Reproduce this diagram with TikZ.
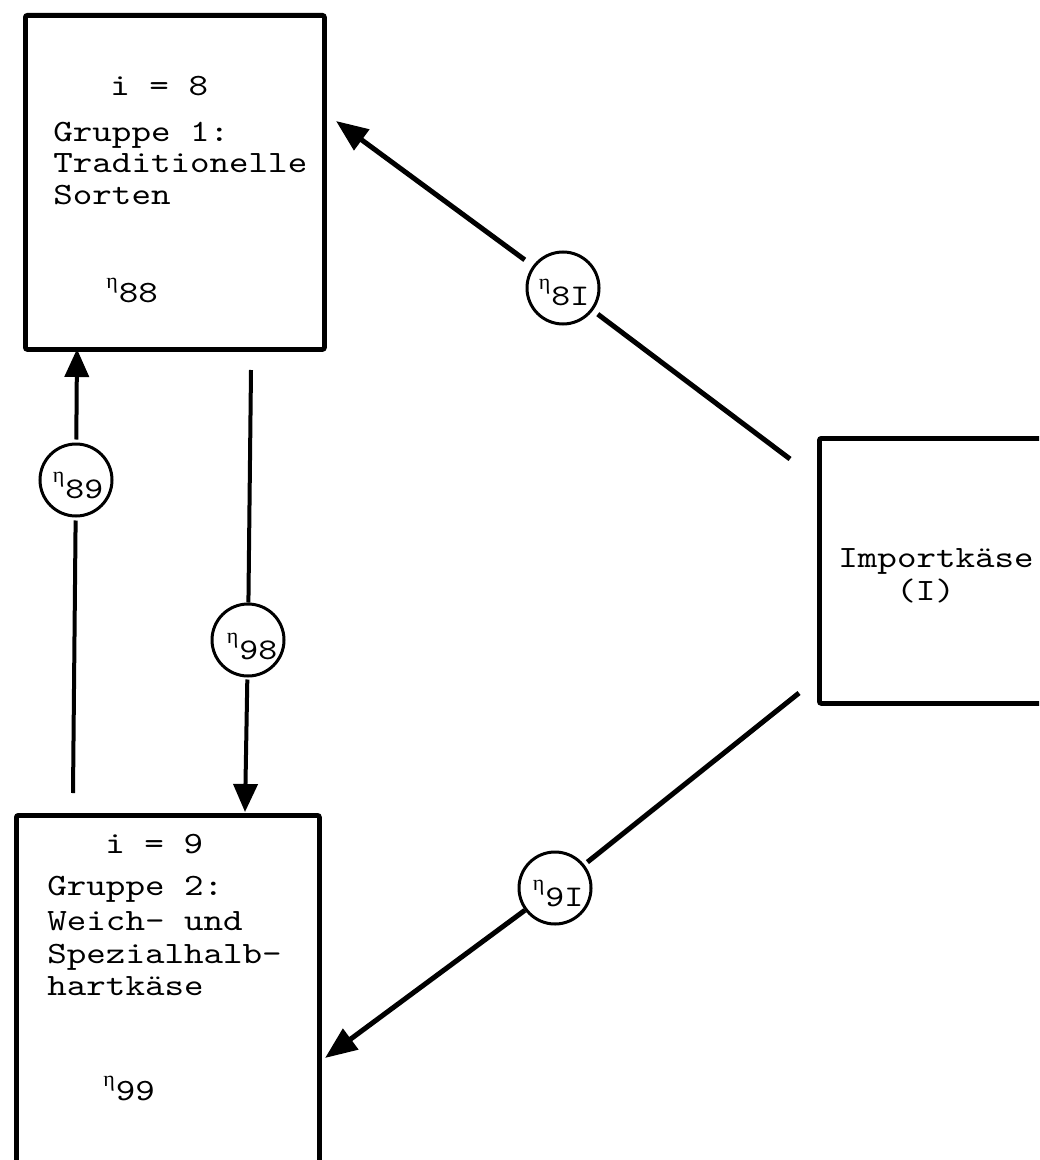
\documentclass[tikz,border=0pt]{standalone}
\usepackage{fontspec}
\newfontfamily\tw{lmmono10-regular}[Extension=.otf, FakeStretch=1.2]
\newfontfamily\grk{Liberation Serif}
\usetikzlibrary{arrows.meta}
\newcommand\etalab[2][7pt]{\raisebox{#1}{\grk\fontsize{11}{11}\selectfont η}\kern0.5pt#2}
\begin{document}
\begin{tikzpicture}[x=0.5pt,y=-0.5pt,
  box/.style={draw, line width=2.4pt, rectangle, inner sep=0pt, anchor=north west, rounded corners=1pt},
  txt/.style={font=\tw\fontsize{15.5}{18}\selectfont, inner sep=0pt, anchor=base west},
  lab/.style={font=\tw\fontsize{15}{18}\selectfont, inner sep=0pt, anchor=base},
  circ/.style={draw, circle, line width=1.5pt, minimum size=36pt, inner sep=0pt},
  vconn/.style={line width=2pt},
  dconn/.style={line width=2.5pt},
  vtip/.style={-{Triangle[length=14pt,width=12pt]}},
  dtip/.style={-{Triangle[length=16pt,width=12.5pt]}},
]
\clip (0,0) rectangle (1039,1160);
\fill[white] (0,0) rectangle (1039,1160);

% boxes
\node[box, minimum width=149.5pt, minimum height=167pt] (b8) at (23,13) {};
\node[box, minimum width=151.5pt, minimum height=200pt] (b9) at (14,813) {};
\node[box, minimum width=150pt, minimum height=132.5pt] (bI) at (817,436) {};

% texts box 1
\node[txt] (t8a) at (110,96) {i = 8};
\node[txt] (t8b) at (53,142) {Gruppe 1:};
\node[txt] (t8c) at (53,173) {Traditionelle};
\node[txt] (t8d) at (53,205) {Sorten};
\node[txt] (t8e) at (106,303) {\etalab{88}};

% texts box 2
\node[txt] (t9a) at (105,853) {i = 9};
\node[txt] (t9b) at (47,895) {Gruppe 2:};
\node[txt] (t9c) at (47,930) {Weich- und};
\node[txt] (t9d) at (47,963) {Spezialhalb-};
\node[txt] (t9e) at (47,995) {hartkäse};
\node[txt] (t9f) at (103,1100) {\etalab{99}};

% texts box I
\node[txt] (tIa) at (838,567) {Importkäse};
\node[txt] (tIb) at (896,600) {(I)};

% elasticity circles
\node[circ] (e8I) at (563,288) {};
\node[lab] (l8I) at (564,306) {\etalab[8pt]{8I}};
\node[circ] (e9I) at (555,888) {};
\node[lab] (l9I) at (558,906) {\etalab[8pt]{9I}};
\node[circ] (e89) at (76,480) {};
\node[lab] (l89) at (78,498) {\etalab[8pt]{89}};
\node[circ] (e98) at (248,640) {};
\node[lab] (l98) at (252,659) {\etalab[8pt]{98}};

% connector endpoints
\coordinate (s8I) at (790,459);
\coordinate (p8I) at (336,121);
\coordinate (s9I) at (799,693);
\coordinate (p9I) at (325,1058);
\coordinate (s89) at (73,793);
\coordinate (p89) at (77,349);
\coordinate (s98) at (251,370);
\coordinate (p98) at (245,812);

% connectors
\draw[dconn, shorten >=3pt] (s8I) -- (e8I);
\draw[dconn, dtip, shorten <=5pt] (e8I) -- (p8I);
\draw[dconn, shorten >=2pt] (s9I) -- (e9I);
\draw[dconn, dtip] (e9I) -- (p9I);
\draw[vconn, shorten >=1.5pt] (s89) -- (e89);
\draw[vconn, vtip, shorten <=1.5pt] (e89) -- (p89);
\draw[vconn] (s98) -- (e98);
\draw[vconn, vtip, shorten <=1pt] (e98) -- (p98);
\end{tikzpicture}
\end{document}
